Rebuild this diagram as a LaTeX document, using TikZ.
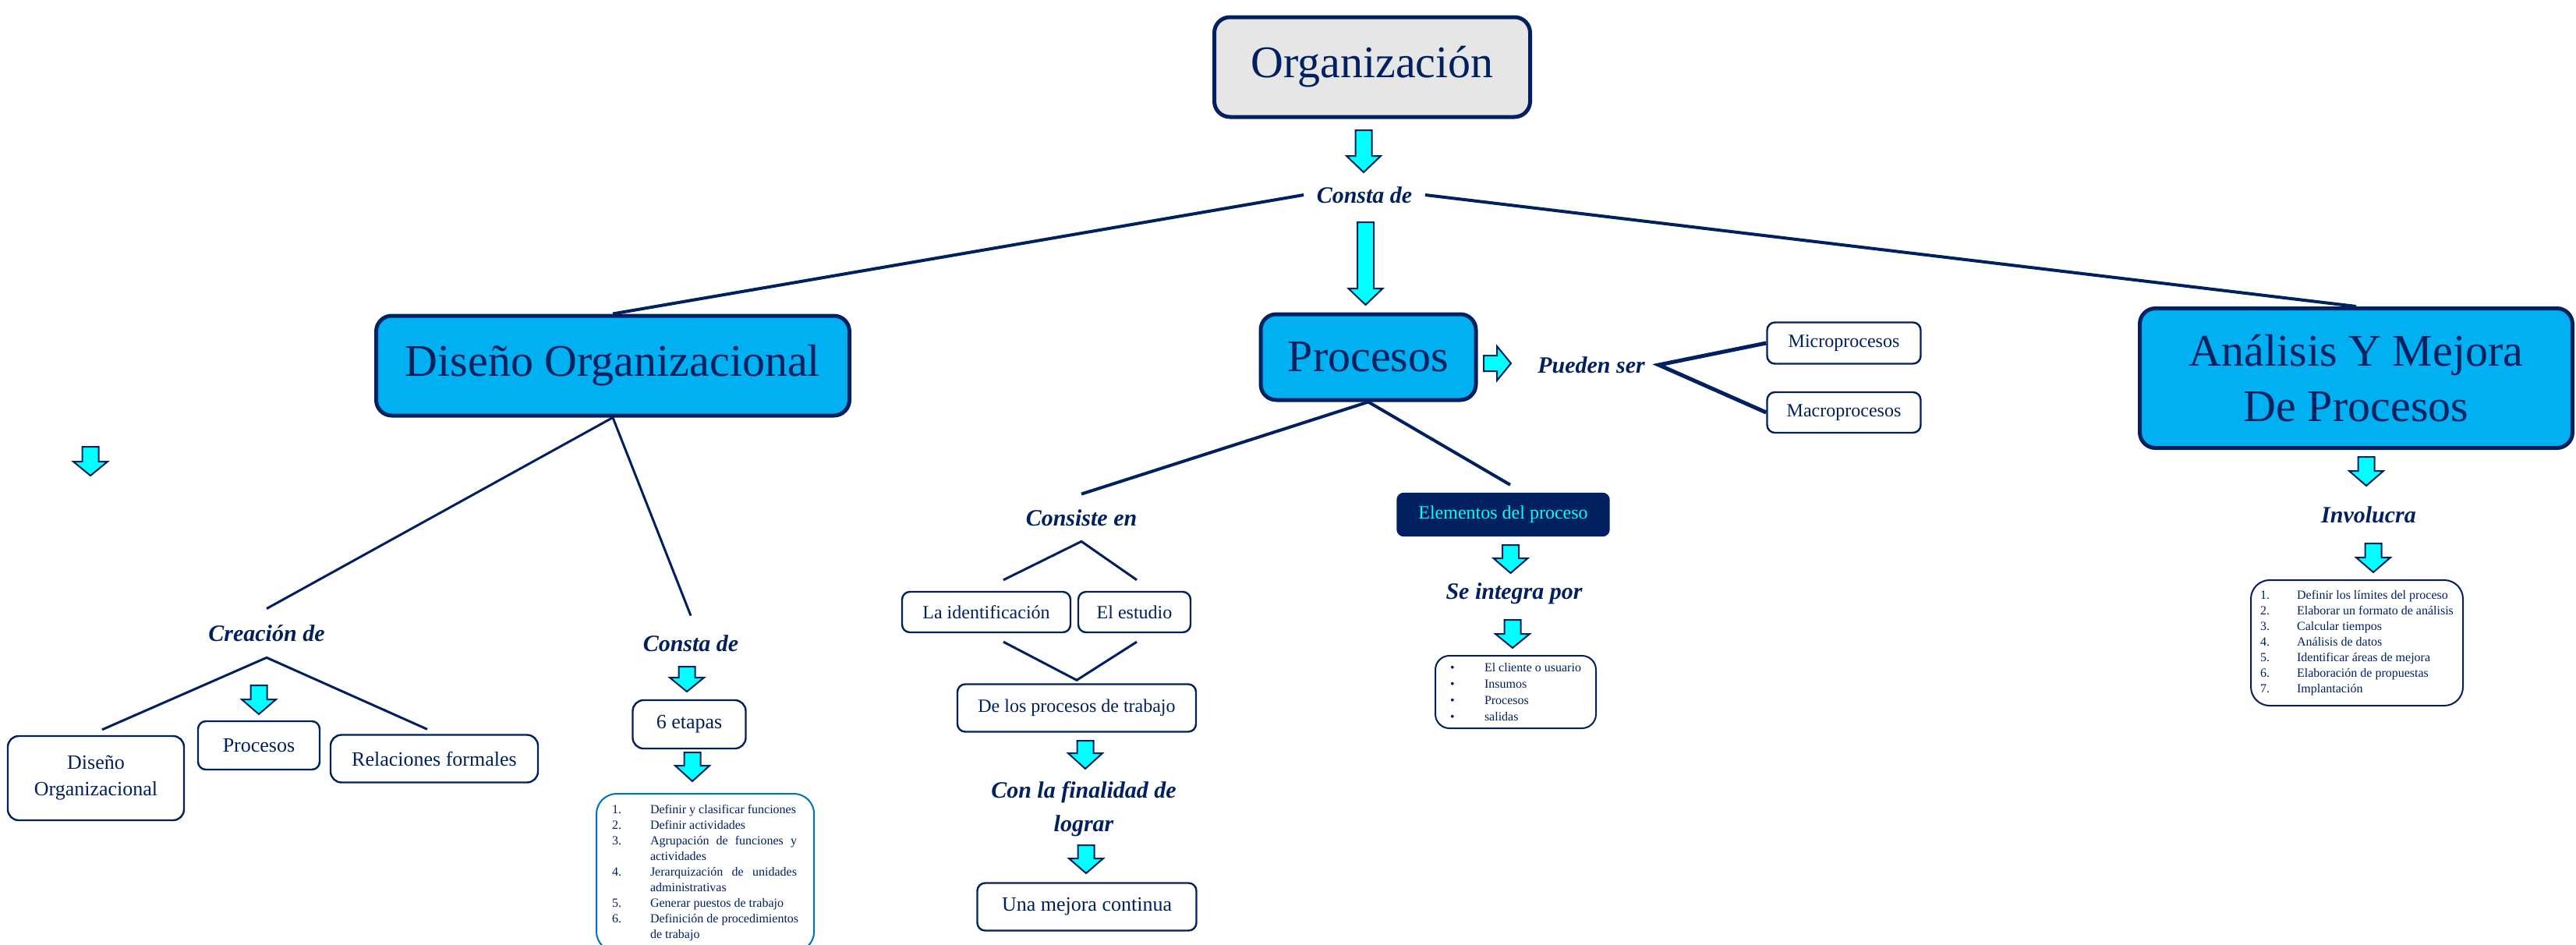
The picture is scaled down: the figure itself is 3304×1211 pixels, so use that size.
\documentclass[tikz,border=0pt]{standalone}
\usepackage{fontspec}
\setmainfont{Liberation Serif}
\usetikzlibrary{calc}
\definecolor{navy}{HTML}{002060}
\definecolor{sky}{HTML}{00B0F0}
\definecolor{aqua}{HTML}{00FFFF}
\definecolor{lgray}{HTML}{E6E6E6}
\definecolor{mblue}{HTML}{0070C0}
\tikzset{
 big/.style={draw=navy, line width=2.5pt, rounded corners=10pt, fill=sky, text=navy, font=\fontsize{29}{35.5}\selectfont, inner sep=0pt, align=center},
 sm/.style={draw=navy, line width=1.2pt, rounded corners=5pt, fill=white, text=navy, font=\fontsize{12}{14}\selectfont, inner sep=0pt, align=center},
 smb/.style={sm, font=\fontsize{13}{17}\selectfont},
 lbl/.style={text=navy, font=\fontsize{15}{21.5}\selectfont\bfseries\itshape, inner sep=0pt, align=center},
 conn/.style={draw=navy, line width=2pt},
 thin/.style={draw=navy, line width=1.5pt},
 blk/.style={fill=aqua, draw=navy, line width=1pt, line join=miter},
 lst/.style={draw=navy, line width=1pt, fill=white, text=navy, font=\fontsize{8}{10}\selectfont, align=left, rounded corners=12pt},
}
\newcommand{\DArr}[4]{\draw[blk] (#1-10.5,#2) -- (#1+10.5,#2) -- (#1+10.5,#3) -- (#1+22,#3) -- (#1,#4) -- (#1-22,#3) -- (#1-10.5,#3) -- cycle;}
\newcommand{\Num}[1]{\makebox[24.5pt][l]{#1}}
\newcommand{\NumB}[1]{\makebox[23.5pt][l]{#1}}
\newcommand{\Bul}{\makebox[22pt][l]{\textbullet}}
\begin{document}
\begin{tikzpicture}[x=0.5pt,y=-0.5pt]
\useasboundingbox (0,0) rectangle (3304,1211);
\fill[white] (0,0) rectangle (3304,1211);

% main nodes
\node[big, fill=lgray, minimum width=202.5pt, minimum height=64pt] (org) at (1760,86) {\raisebox{4pt}{Organización}};
\node[lbl, minimum width=77.5pt] (consta) at (1750,250) {Consta de};
\node[big, minimum width=303.5pt, minimum height=64pt] (diseno) at (786,469) {\raisebox{4pt}{Diseño Organizacional}};
\node[big, minimum width=138pt, minimum height=55pt] (procesos) at (1755,458) {Procesos};
\node[big, minimum width=277.5pt, minimum height=89.5pt] (analisis) at (3022,485) {Análisis Y Mejora\\De Procesos};

% Procesos branch
\node[lbl, minimum width=86pt] (pueden) at (2041,468) {Pueden ser};
\node[sm, minimum width=98.5pt, minimum height=26.5pt] (micro) at (2365,440) {Microprocesos};
\node[sm, minimum width=98.5pt, minimum height=26pt] (macro) at (2365,529) {Macroprocesos};
\node[sm, fill=navy, text=aqua, rounded corners=4pt, minimum width=135.5pt, minimum height=27pt] (elem) at (1928,660) {Elementos del proceso};
\node[lbl] (seint) at (1942,761) {Se integra por};
\node[lst, rounded corners=9pt, minimum width=103pt, minimum height=46.5pt, font=\fontsize{8}{10.5}\selectfont] (ellist) at (1944,887.5) {%
\Bul El cliente o usuario\\
\Bul Insumos\\
\Bul Procesos\\
\Bul salidas};
\node[lbl, minimum height=30pt] (consiste) at (1387,664) {Consiste en};
\node[sm, minimum width=108pt, minimum height=26pt] (ident) at (1265,785) {La identificación};
\node[sm, minimum width=72pt, minimum height=26pt] (estudio) at (1455,785) {El estudio};
\node[sm, minimum width=153pt, minimum height=30.5pt] (delos) at (1381,908) {De los procesos de trabajo};
\node[lbl] (final) at (1390,1038) {Con la finalidad de\\lograr};
\node[sm, font=\fontsize{13}{17}\selectfont, minimum width=140.5pt, minimum height=30.5pt] (mejora) at (1394,1163) {Una mejora continua};

% Diseno branch
\node[lbl, minimum height=31pt] (creacion) at (342,812) {Creación de};
\node[smb, rounded corners=7pt, minimum width=113pt, minimum height=54pt] (dsm) at (123,998) {Diseño\\Organizacional};
\node[smb, minimum width=78pt, minimum height=31pt] (procsm) at (332,956) {Procesos};
\node[smb, rounded corners=7pt, minimum width=133pt, minimum height=30.5pt] (rel) at (557,973) {Relaciones formales};
\node[lbl, minimum height=35pt] (consta2) at (886,825) {Consta de};
\node[smb, rounded corners=7pt, minimum width=72.5pt, minimum height=31pt] (etapas) at (884,929) {6 etapas};
\node[lst, draw=mblue, anchor=north west, inner xsep=10pt, inner ysep=7pt, rounded corners=13pt] (etlist) at (764,1017) {%
\Num{1.}Definir y clasificar funciones\\
\Num{2.}Definir actividades\\
\Num{3.}\makebox[94pt][s]{Agrupación de funciones y}\\
\hspace*{24.5pt}actividades\\
\Num{4.}\makebox[94pt][s]{Jerarquización de unidades}\\
\hspace*{24.5pt}administrativas\\
\Num{5.}Generar puestos de trabajo\\
\Num{6.}Definición de procedimientos\\
\hspace*{24.5pt}de trabajo};

% Analisis branch
\node[lbl] (involucra) at (3038,660) {Involucra};
\node[lst, minimum width=136pt, minimum height=80.5pt] (anlist) at (3023,824.5) {%
\NumB{1.}Definir los límites del proceso\\
\NumB{2.}Elaborar un formato de análisis\\
\NumB{3.}Calcular tiempos\\
\NumB{4.}Análisis de datos\\
\NumB{5.}Identificar áreas de mejora\\
\NumB{6.}Elaboración de propuestas\\
\NumB{7.}Implantación};

% connectors
\draw[conn] (consta.west) -- (diseno.north);
\draw[conn] (consta.east) -- (analisis.north);
\draw[thin] (diseno.south) -- (creacion.north);
\draw[thin] (diseno.south) -- (consta2.north);
\draw[thin] ([xshift=4pt,yshift=3.5pt]dsm.north) -- (creacion.south) -- ([xshift=-4.5pt,yshift=3pt]rel.north);
\draw[conn] (procesos.south) -- (consiste.north);
\draw[conn] (procesos.south) -- ([xshift=4.5pt,yshift=5pt]elem.north);
\draw[thin] ([xshift=11pt,yshift=7pt]ident.north) -- (consiste.south) -- ([xshift=1.5pt,yshift=7pt]estudio.north);
\draw[thin] ([xshift=11pt,yshift=-5.5pt]ident.south) -- ([yshift=2pt]delos.north) -- ([xshift=1.5pt,yshift=-5.5pt]estudio.south);
\draw[conn, line width=2.5pt] (micro.west) -- (pueden.east) -- (macro.west);

% block arrows
\DArr{1749}{167}{200}{221}
\DArr{1751.5}{285}{370}{391}
\draw[blk] (1903,456) -- (1920,456) -- (1920,444) -- (1938,466) -- (1920,488) -- (1920,476) -- (1903,476) -- cycle;
\DArr{1937.5}{699}{716}{735}
\DArr{1940}{795}{813}{831}
\DArr{1392}{950}{966}{986}
\DArr{1393}{1084}{1101}{1120}
\DArr{332}{879}{897}{916}
\DArr{881}{855}{869}{887}
\DArr{888}{965}{982}{1002}
\DArr{116}{573}{592}{610}
\DArr{3035}{586}{604}{623}
\DArr{3044}{697}{715}{734}
\end{tikzpicture}
\end{document}
